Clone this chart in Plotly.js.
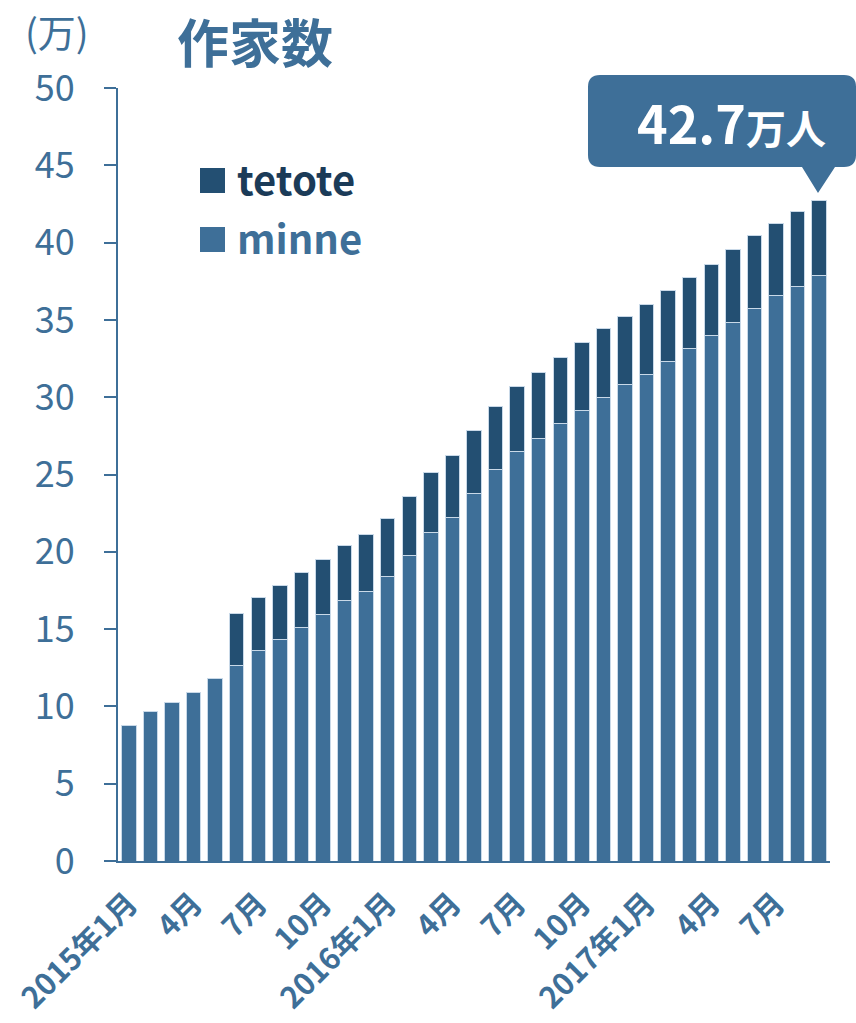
<!DOCTYPE html>
<html>
<head>
<meta charset="utf-8">
<script src="https://cdn.plot.ly/plotly-3.0.1.min.js"></script>
<style>html,body{margin:0;padding:0;background:#fff;}#chart{width:856px;height:1023px;}</style>
</head>
<body>
<div id="chart"></div>
<script>
// ---- data (万) ----
const months = [
  '2015-01','2015-02','2015-03','2015-04','2015-05','2015-06','2015-07','2015-08','2015-09','2015-10','2015-11','2015-12',
  '2016-01','2016-02','2016-03','2016-04','2016-05','2016-06','2016-07','2016-08','2016-09','2016-10','2016-11','2016-12',
  '2017-01','2017-02','2017-03','2017-04','2017-05','2017-06','2017-07','2017-08','2017-09'
];
const minne = [
  8.75, 9.66, 10.24, 10.91, 11.79, 12.66, 13.63, 14.34, 15.12, 15.96, 16.82, 17.44,
  18.41, 19.79, 21.26, 22.25, 23.78, 25.31, 26.52, 27.34, 28.31, 29.17, 30.01, 30.79,
  31.50, 32.32, 33.16, 33.96, 34.84, 35.71, 36.55, 37.17, 37.90
];
const tetote = [
  0, 0, 0, 0, 0, 3.38, 3.43, 3.51, 3.55, 3.57, 3.60, 3.69,
  3.76, 3.80, 3.88, 3.99, 4.08, 4.12, 4.16, 4.25, 4.29, 4.38, 4.45, 4.40,
  4.51, 4.55, 4.59, 4.61, 4.70, 4.74, 4.70, 4.81, 4.80
];
const tickMonths = ['2015-01','2015-04','2015-07','2015-10','2016-01','2016-04','2016-07','2016-10','2017-01','2017-04','2017-07'];
const tickLabels = ['2015年1月','4月','7月','10月','2016年1月','4月','7月','10月','2017年1月','4月','7月'];
const seriesNames = ['tetote','minne'];

// ---- style ----
const FONT = '"Noto Sans CJK JP", "Noto Sans", sans-serif';
const C_MINNE = '#3e6f98';
const C_TETOTE = '#234f72';
const C_TEXT = '#3e6f98';
const C_EDGE = '#c9d9e8';

const W = 856, H = 1023;
const L = 118, R = 26, T = 88, B = 162;
const pw = W - L - R, ph = H - T - B;
const px = p => (p - L) / pw;
const py = p => (H - B - p) / ph;

const traces = [
  {type:'bar', name:seriesNames[1], x:months, y:minne,
   marker:{color:C_MINNE, line:{color:C_EDGE, width:1}}, hoverinfo:'skip', showlegend:false},
  {type:'bar', name:seriesNames[0], x:months, y:tetote,
   marker:{color:C_TETOTE, line:{color:C_EDGE, width:1}}, hoverinfo:'skip', showlegend:false}
];

// callout path (rounded rect + pointer)
function calloutPath(x0, y0, x1, y1, r, tx0, tipx, tipy, tx1) {
  const P = (a,b) => px(a).toFixed(5) + ',' + py(b).toFixed(5);
  return 'M' + P(x0+r,y0) + ' L' + P(x1-r,y0) + ' Q' + P(x1,y0) + ' ' + P(x1,y0+r) +
    ' L' + P(x1,y1-r) + ' Q' + P(x1,y1) + ' ' + P(x1-r,y1) +
    ' L' + P(tx1,y1) + ' L' + P(tipx,tipy) + ' L' + P(tx0,y1) +
    ' L' + P(x0+r,y1) + ' Q' + P(x0,y1) + ' ' + P(x0,y1-r) +
    ' L' + P(x0,y0+r) + ' Q' + P(x0,y0) + ' ' + P(x0+r,y0) + ' Z';
}

const lastTotal = (minne[minne.length-1] + tetote[tetote.length-1]).toFixed(1);

const shapes = [
  {type:'path', xref:'paper', yref:'paper', path:calloutPath(588,75,856,167,12,802,818,193,835),
   fillcolor:C_MINNE, line:{width:0}},
  {type:'rect', xref:'paper', yref:'paper', x0:px(200), x1:px(225), y0:py(193), y1:py(168),
   fillcolor:C_TETOTE, line:{width:0}},
  {type:'rect', xref:'paper', yref:'paper', x0:px(200), x1:px(225), y0:py(252), y1:py(227),
   fillcolor:C_MINNE, line:{width:0}}
];

const annotations = [
  {xref:'paper', yref:'paper', x:px(23), y:py(30), xanchor:'left', yanchor:'middle', showarrow:false,
   text:'(万)', font:{family:FONT, size:38, color:C_TEXT}},
  {xref:'paper', yref:'paper', x:px(235), y:py(178), xanchor:'left', yanchor:'middle', showarrow:false,
   text:'<b>' + seriesNames[0] + '</b>', font:{family:FONT, size:40, color:'#1b3b58'}},
  {xref:'paper', yref:'paper', x:px(235), y:py(237), xanchor:'left', yanchor:'middle', showarrow:false,
   text:'<b>' + seriesNames[1] + '</b>', font:{family:FONT, size:40, color:C_TEXT}},
  {xref:'paper', yref:'paper', x:px(731), y:py(121), xanchor:'center', yanchor:'middle', showarrow:false,
   text:'<b>' + lastTotal + '<span style="font-size:40px">万人</span></b>', font:{family:FONT, size:52, color:'#ffffff'}}
];

const layout = {
  width:W, height:H,
  margin:{l:L, r:R, t:T, b:B, pad:0},
  paper_bgcolor:'#ffffff', plot_bgcolor:'#ffffff',
  barmode:'stack', bargap:0.33,
  showlegend:false,
  title:{text:'<b>作家数</b>', font:{family:FONT, size:52, color:C_TEXT},
         xref:'container', yref:'container', x:255/W, xanchor:'center', y:1-45/H, yanchor:'middle'},
  xaxis:{type:'category', categoryorder:'array', categoryarray:months,
         range:[-0.5, months.length-0.5],
         tickmode:'array', tickvals:tickMonths, ticktext:tickLabels.map(t=>'<b>'+t+'</b>'),
         tickangle:-45, ticks:'', showgrid:false, zeroline:false,
         ticklabelstandoff:11,
         showline:true, linecolor:C_MINNE, linewidth:2,
         tickfont:{family:FONT, size:30, color:C_TEXT}, fixedrange:true},
  yaxis:{range:[0,50], dtick:5, tick0:0, ticks:'outside', ticklen:12, tickwidth:2, tickcolor:C_MINNE,
         showline:true, linecolor:C_MINNE, linewidth:2, showgrid:false, zeroline:false,
         ticklabelstandoff:22,
         tickfont:{family:FONT, size:36, color:C_TEXT}, fixedrange:true},
  shapes:shapes,
  annotations:annotations,
  font:{family:FONT}
};

Plotly.newPlot('chart', traces, layout, {staticPlot:true, displayModeBar:false});
</script>
</body>
</html>
